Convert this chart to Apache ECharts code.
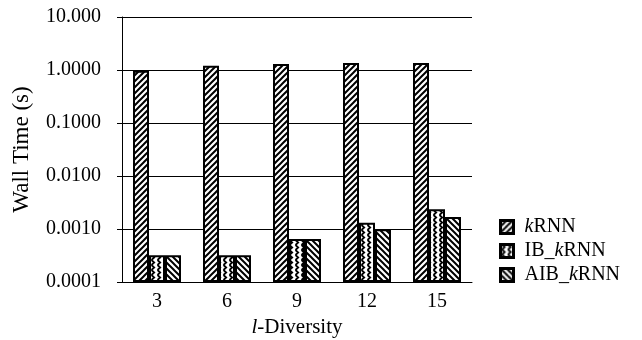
<!DOCTYPE html>
<html>
<head>
<meta charset="utf-8">
<script src="https://cdn.jsdelivr.net/npm/echarts@6/dist/echarts.min.js"></script>
<style>
  html, body { margin: 0; padding: 0; background: #fff; }
  #chart { width: 642px; height: 340px; }
</style>
</head>
<body>
<div id="chart"></div>
<script>
// l-diversity levels on the x axis
const categories = ['3', '6', '9', '12', '15'];
// wall time in seconds for each method
const krnn = [0.97, 1.2, 1.3, 1.36, 1.36];
const ibKrnn = [0.00032, 0.00032, 0.00065, 0.00131, 0.00235];
const aibKrnn = [0.00032, 0.00032, 0.00065, 0.00099, 0.00168];
// y axis tick labels, keyed by decade
const yTickLabels = { '-4': '0.0001', '-3': '0.0010', '-2': '0.0100', '-1': '0.1000', '0': '1.0000', '1': '10.000' };

const FONT = '"Liberation Serif", "Times New Roman", serif';

// Hatch tiles for the bar fills
function makeTile(w, h, draw) {
  const c = document.createElement('canvas');
  c.width = w; c.height = h;
  const g = c.getContext('2d');
  g.fillStyle = '#fff';
  g.fillRect(0, 0, w, h);
  g.strokeStyle = '#000';
  g.lineWidth = 2;
  draw(g, w, h);
  return { image: c, repeat: 'repeat' };
}
const forwardHatch = makeTile(6, 6, (g, w, h) => {
  g.beginPath();
  g.moveTo(-1, h + 1); g.lineTo(w + 1, -1);
  g.moveTo(-1, 1); g.lineTo(1, -1);
  g.moveTo(w - 1, h + 1); g.lineTo(w + 1, h - 1);
  g.stroke();
});
const backHatch = makeTile(6, 6, (g, w, h) => {
  g.beginPath();
  g.moveTo(-1, -1); g.lineTo(w + 1, h + 1);
  g.moveTo(w - 1, -1); g.lineTo(w + 1, 1);
  g.moveTo(-1, h - 1); g.lineTo(1, h + 1);
  g.stroke();
});
const zigzag = makeTile(6, 5, (g, w, h) => {
  g.lineWidth = 1.8;
  g.beginPath();
  g.moveTo(1.5, 0); g.lineTo(4.2, 2.5); g.lineTo(1.5, 5);
  g.stroke();
});

function barSeries(name, data, fill) {
  return {
    name: name,
    type: 'bar',
    data: data,
    barWidth: 16,
    barGap: '0%',
    itemStyle: { color: fill, borderColor: '#000', borderWidth: 2 },
    emphasis: { disabled: true }
  };
}

const italicRich = (size) => ({ i: { fontFamily: FONT, fontSize: size, fontStyle: 'italic', color: '#000' } });

const chart = echarts.init(document.getElementById('chart'), null, { renderer: 'canvas' });
chart.setOption({
  backgroundColor: '#fff',
  animation: false,
  textStyle: { fontFamily: FONT, color: '#000' },
  grid: { left: 122, right: 170, top: 17, bottom: 58, containLabel: false, outerBoundsMode: 'none' },
  legend: {
    orient: 'vertical',
    left: 494,
    top: 212,
    itemWidth: 13,
    itemHeight: 13,
    itemGap: 4,
    icon: 'rect',
    itemStyle: { borderColor: '#000', borderWidth: 3 },
    textStyle: {
      fontFamily: FONT, fontSize: 20, color: '#000', padding: [0, 0, 0, 6],
      rich: italicRich(20)
    },
    formatter: function (n) { return n.replace('kRNN', '{i|k}RNN'); },
    data: ['kRNN', 'IB_kRNN', 'AIB_kRNN']
  },
  xAxis: {
    type: 'category',
    data: categories,
    name: '{i|l}-Diversity',
    nameLocation: 'middle',
    nameGap: 29,
    nameTextStyle: { fontFamily: FONT, fontSize: 21, color: '#000', rich: italicRich(21) },
    axisLine: { lineStyle: { color: '#000', width: 1 } },
    axisTick: { show: false },
    axisLabel: { fontFamily: FONT, fontSize: 20, color: '#000', margin: 10 }
  },
  yAxis: {
    type: 'log',
    logBase: 10,
    min: 0.0001,
    max: 10,
    startValue: 0.0001,
    name: 'Wall Time (s)',
    nameLocation: 'middle',
    nameGap: 89,
    nameTextStyle: { fontFamily: FONT, fontSize: 23, color: '#000' },
    axisLine: { show: true, lineStyle: { color: '#000', width: 1 } },
    axisTick: { show: true, length: 5, lineStyle: { color: '#000' } },
    axisLabel: {
      fontFamily: FONT, fontSize: 20, color: '#000', margin: 21,
      formatter: function (v) { return yTickLabels[String(Math.round(Math.log10(v)))] || ''; }
    },
    splitLine: { show: true, lineStyle: { color: '#000', width: 1 } }
  },
  series: [
    barSeries('kRNN', krnn, forwardHatch),
    barSeries('IB_kRNN', ibKrnn, zigzag),
    barSeries('AIB_kRNN', aibKrnn, backHatch)
  ]
});
</script>
</body>
</html>
